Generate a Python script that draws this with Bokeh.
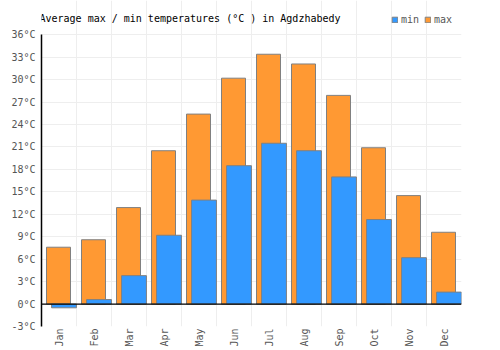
import math
from bokeh.plotting import figure
from bokeh.models import (ColumnDataSource, FixedTicker, PrintfTickFormatter, Span,
                          Legend, LegendItem, Grid, Label, Range1d)
from bokeh.embed import file_html
from bokeh.resources import INLINE

months = ["Jan", "Feb", "Mar", "Apr", "May", "Jun", "Jul", "Aug", "Sep", "Oct", "Nov", "Dec"]
t_min = [-0.5, 0.6, 3.8, 9.2, 13.9, 18.5, 21.5, 20.5, 17.0, 11.3, 6.2, 1.6]
t_max = [7.6, 8.6, 12.9, 20.5, 25.4, 30.2, 33.4, 32.1, 27.9, 20.9, 14.5, 9.6]
y_ticks = [-3, 0, 3, 6, 9, 12, 15, 18, 21, 24, 27, 30, 33, 36]
title_text = "Average max / min temperatures (°C ) in Agdzhabedy"

FONT = "DejaVu Sans Mono"
xc = [i + 0.5 for i in range(len(months))]
src = ColumnDataSource(dict(
    xmax=[x - 0.014 for x in xc],
    xmin=[x + 0.143 for x in xc],
    tmin=t_min, tmax=t_max, zero=[0] * len(months)))

p = figure(width=500, height=350, output_backend="svg", toolbar_location=None,
           x_range=Range1d(0, 12), y_range=Range1d(-3, 40.586),
           title=None, title_location=None,
           min_border_left=41, min_border_right=39, min_border_top=0, min_border_bottom=24)
p.outline_line_color = None
p.background_fill_color = "white"
p.border_fill_color = "white"

r_max = p.vbar(x="xmax", top="tmax", bottom="zero", width=0.686, source=src,
               fill_color="#ff9933", line_color="#808080", line_width=1)
r_min = p.vbar(x="xmin", top="tmin", bottom="zero", width=0.71, source=src,
               fill_color="#3399ff", line_color="#808080", line_width=1)

p.add_layout(Span(location=0, dimension="width", line_color="black", line_width=1.2))

# axes
p.yaxis.ticker = FixedTicker(ticks=y_ticks)
p.yaxis.bounds = (-3, 36)
p.yaxis.formatter = PrintfTickFormatter(format="%d°C")
p.yaxis.major_label_text_font = FONT
p.yaxis.major_label_text_font_size = "10px"
p.yaxis.major_label_text_color = "#555555"
p.yaxis.axis_line_color = "black"
p.yaxis.axis_line_width = 1.5
p.yaxis.major_tick_line_color = None
p.yaxis.minor_tick_line_color = None
p.yaxis.major_tick_out = 0
p.yaxis.major_tick_in = 0
p.yaxis.minor_tick_out = 0
p.yaxis.major_label_standoff = 6

p.xaxis.ticker = FixedTicker(ticks=xc)
p.xaxis.major_label_overrides = {x: m for x, m in zip(xc, months)}
p.xaxis.major_label_orientation = math.pi / 2
p.xaxis.major_label_text_font = FONT
p.xaxis.major_label_text_font_size = "10px"
p.xaxis.major_label_text_color = "#555555"
p.xaxis.axis_line_color = None
p.xaxis.major_tick_line_color = None
p.xaxis.minor_tick_line_color = None
p.xaxis.major_tick_out = 0
p.xaxis.major_tick_in = 0
p.xaxis.minor_tick_out = 0
p.xaxis.major_label_standoff = 2

p.ygrid.grid_line_color = "#eeeeee"
p.ygrid.grid_line_width = 1
p.xgrid.grid_line_color = None
p.add_layout(Grid(dimension=0, ticker=FixedTicker(ticks=list(range(13))), bounds=(-3, 36),
                  grid_line_color="#eeeeee", grid_line_width=1))

p.add_layout(Label(x=0, y=38.2, text=title_text, text_font=FONT, text_font_size="10px",
                   text_color="#000000", text_baseline="middle", x_offset=-2))

legend = Legend(items=[LegendItem(label="min", renderers=[r_min]),
                       LegendItem(label="max", renderers=[r_max])],
                orientation="horizontal", location=(350, 301),
                label_text_font=FONT, label_text_font_size="10px",
                label_text_color="#555555", glyph_width=7, glyph_height=7,
                label_standoff=3, spacing=3, padding=0, margin=0,
                label_height=10,
                border_line_color=None, background_fill_alpha=0)
p.add_layout(legend, "center")

open("out.html", "w").write(file_html(p, INLINE))
